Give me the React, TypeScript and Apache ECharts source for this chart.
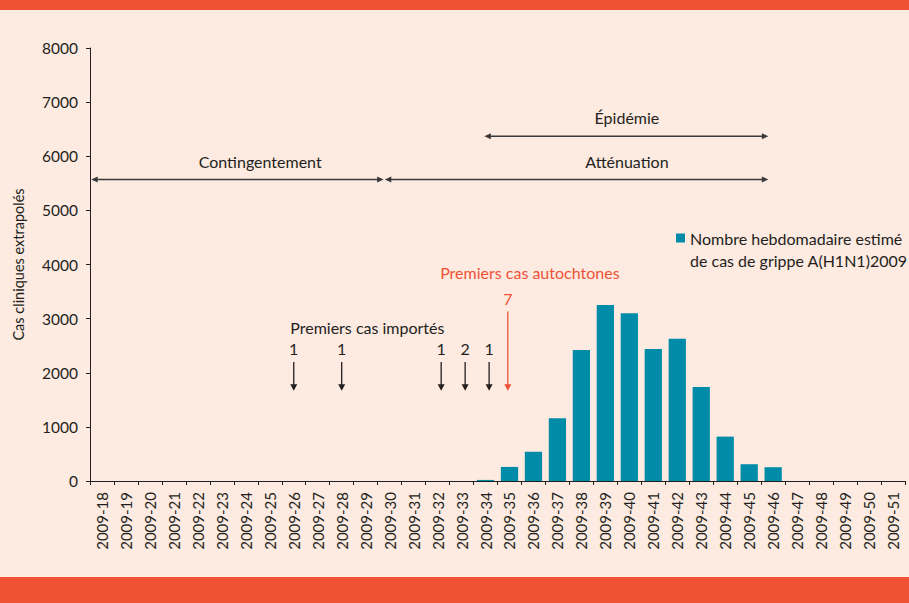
import React, { useEffect, useRef } from "react";
import * as echarts from "echarts";

// ---- data ----
const weeks = [
  "2009-18", "2009-19", "2009-20", "2009-21", "2009-22", "2009-23", "2009-24",
  "2009-25", "2009-26", "2009-27", "2009-28", "2009-29", "2009-30", "2009-31",
  "2009-32", "2009-33", "2009-34", "2009-35", "2009-36", "2009-37", "2009-38",
  "2009-39", "2009-40", "2009-41", "2009-42", "2009-43", "2009-44", "2009-45",
  "2009-46", "2009-47", "2009-48", "2009-49", "2009-50", "2009-51",
];
const cases = [
  0, 0, 0, 0, 0, 0, 0, 0, 0, 0, 0, 0, 0, 0, 0, 0,
  20, 260, 540, 1160, 2420, 3250, 3100, 2440, 2630, 1735, 820, 310, 255,
  0, 0, 0, 0, 0,
];
const seriesName = "Nombre hebdomadaire estimé de cas de grippe A(H1N1)2009";
const legendLines = ["Nombre hebdomadaire estimé", "de cas de grippe A(H1N1)2009"];
const yAxisName = "Cas cliniques extrapolés";

// phases (x in week index units: week i centred on i; y in cases)
const phaseLabels = ["Contingentement", "Atténuation", "Épidémie"];
const phaseStart = [-0.45, 11.8, 15.95];
const phaseEnd = [11.75, 27.8, 27.8];
const phaseArrowY = [5570, 5570, 6370];
const phaseLabelX = [6.6, 21.9, 21.9];
const phaseLabelY = [5900, 5900, 6710];

// first imported cases
const importedTitle = "Premiers cas importés";
const importedPos = [8, 10, 14.15, 15.15, 16.15];
const importedCounts = [1, 1, 1, 2, 1];
const importedArrowTop = [2200];
const importedArrowBottom = [1667];
const importedCountY = [2440];
const importedTitlePos = [11.07, 2830];

// first autochthonous cases
const autoTitle = "Premiers cas autochtones";
const autoPos = [16.93];
const autoCounts = [7];
const autoArrowTop = [3130];
const autoArrowBottom = [1667];
const autoCountY = [3380];
const autoTitlePos = [17.85, 3850];

const FONT = "Lato";
const DARK = "#231f20";
const RED = "#ef5136";
const ORANGE = "#f05133";
const BG = "#fdeae0";
const BAR = "#008ca8";

function downArrow(x: number, yTop: number, yBottom: number, color: string) {
  return [
    {
      type: "line",
      shape: { x1: x, y1: yTop, x2: x, y2: yBottom - 5 },
      style: { stroke: color, lineWidth: 1.3 },
    },
    {
      type: "polygon",
      shape: { points: [[x - 3.5, yBottom - 6.5], [x + 3.5, yBottom - 6.5], [x, yBottom]] },
      style: { fill: color },
    },
  ];
}

function txt(x: number, y: number, text: string, color: string, size: number) {
  return {
    type: "text",
    x,
    y,
    style: {
      text,
      fill: color,
      fontSize: size,
      fontFamily: FONT,
      align: "center",
      verticalAlign: "middle",
    },
  };
}

export default function App() {
  const ref = useRef<HTMLDivElement>(null);
  useEffect(() => {
    if (!ref.current) return;
    const chart = echarts.init(ref.current, null, { renderer: "svg" });
    const option: any = {
      animation: false,
      backgroundColor: BG,
      grid: { left: 90, right: 4, top: 48, bottom: 122, outerBoundsMode: "none", containLabel: false },
      legend: {
        show: true,
        left: 676,
        top: 205,
        padding: 0,
        icon: "rect",
        itemWidth: 9,
        itemHeight: 9,
        data: [seriesName],
        formatter: () => "\n" + legendLines.join("\n"),
        textStyle: { fontSize: 16, fontFamily: FONT, color: DARK, lineHeight: 22 },
      },
      xAxis: [
        {
          type: "category",
          data: weeks,
          axisLine: { onZero: false, lineStyle: { color: DARK, width: 1 } },
          axisTick: { show: true, length: 4, alignWithLabel: false, lineStyle: { color: DARK } },
          axisLabel: { rotate: 90, interval: 0, fontSize: 15, fontFamily: FONT, color: DARK, margin: 11 },
        },
        { type: "value", min: -0.5, max: 33.5, show: false, axisLine: { onZero: false } },
      ],
      yAxis: {
        type: "value",
        min: 0,
        max: 8000,
        interval: 1000,
        name: yAxisName,
        nameLocation: "middle",
        nameGap: 64,
        nameTextStyle: { fontSize: 14.5, fontFamily: FONT, color: DARK },
        axisLine: { show: true, onZero: false, lineStyle: { color: DARK, width: 1 } },
        axisTick: { show: true, length: 4, lineStyle: { color: DARK } },
        splitLine: { show: false },
        axisLabel: {
          fontSize: 15.5,
          fontFamily: FONT,
          color: DARK,
          margin: 12,
          formatter: (v: number) => String(v),
        },
      },
      graphic: [
        { type: "rect", left: 0, top: 0, shape: { width: 909, height: 10 }, style: { fill: ORANGE }, silent: true },
        { type: "rect", left: 0, top: 577, shape: { width: 909, height: 26 }, style: { fill: ORANGE }, silent: true },
      ],
      series: [
        {
          name: seriesName,
          type: "bar",
          data: cases,
          barWidth: "72%",
          itemStyle: { color: BAR },
        },
        {
          type: "custom",
          xAxisIndex: 1,
          yAxisIndex: 0,
          clip: false,
          silent: true,
          encode: { x: [0, 1, 3], y: [2, 4] },
          data: phaseLabels.map((_, i) => [phaseStart[i], phaseEnd[i], phaseArrowY[i], phaseLabelX[i], phaseLabelY[i]]),
          renderItem: (params: any, api: any) => {
            const i = params.dataIndex;
            const p1 = api.coord([api.value(0), api.value(2)]);
            const p2 = api.coord([api.value(1), api.value(2)]);
            const lp = api.coord([api.value(3), api.value(4)]);
            const c = "#3a3a3a";
            return {
              type: "group",
              children: [
                { type: "line", shape: { x1: p1[0] + 4, y1: p1[1], x2: p2[0] - 4, y2: p2[1] }, style: { stroke: c, lineWidth: 1.5 } },
                { type: "polygon", shape: { points: [[p1[0], p1[1]], [p1[0] + 6.5, p1[1] - 3], [p1[0] + 6.5, p1[1] + 3]] }, style: { fill: c } },
                { type: "polygon", shape: { points: [[p2[0], p2[1]], [p2[0] - 6.5, p2[1] - 3], [p2[0] - 6.5, p2[1] + 3]] }, style: { fill: c } },
                txt(lp[0], lp[1], phaseLabels[i], DARK, 16),
              ],
            };
          },
        },
        {
          type: "custom",
          xAxisIndex: 1,
          yAxisIndex: 0,
          clip: false,
          silent: true,
          data: importedPos.map((x, i) => [x, importedCounts[i]]),
          renderItem: (params: any, api: any) => {
            const x = api.value(0);
            const top = api.coord([x, importedArrowTop[0]]);
            const bot = api.coord([x, importedArrowBottom[0]]);
            const cnt = api.coord([x, importedCountY[0]]);
            const children: any[] = [
              ...downArrow(top[0], top[1], bot[1], DARK),
              txt(cnt[0], cnt[1], String(api.value(1)), DARK, 16),
            ];
            if (params.dataIndex === 0) {
              const tp = api.coord(importedTitlePos);
              children.push(txt(tp[0], tp[1], importedTitle, DARK, 16));
            }
            return { type: "group", children };
          },
        },
        {
          type: "custom",
          xAxisIndex: 1,
          yAxisIndex: 0,
          clip: false,
          silent: true,
          data: autoPos.map((x, i) => [x, autoCounts[i]]),
          renderItem: (params: any, api: any) => {
            const x = api.value(0);
            const top = api.coord([x, autoArrowTop[0]]);
            const bot = api.coord([x, autoArrowBottom[0]]);
            const cnt = api.coord([x, autoCountY[0]]);
            const tp = api.coord(autoTitlePos);
            return {
              type: "group",
              children: [
                ...downArrow(top[0], top[1], bot[1], RED),
                txt(cnt[0], cnt[1], String(api.value(1)), RED, 16),
                txt(tp[0], tp[1], autoTitle, RED, 16),
              ],
            };
          },
        },
      ],
    };
    chart.setOption(option);
    return () => chart.dispose();
  }, []);
  return (
    <div
      ref={ref}
      style={{ position: "fixed", left: 0, top: 0, width: 909, height: 603 }}
    />
  );
}
